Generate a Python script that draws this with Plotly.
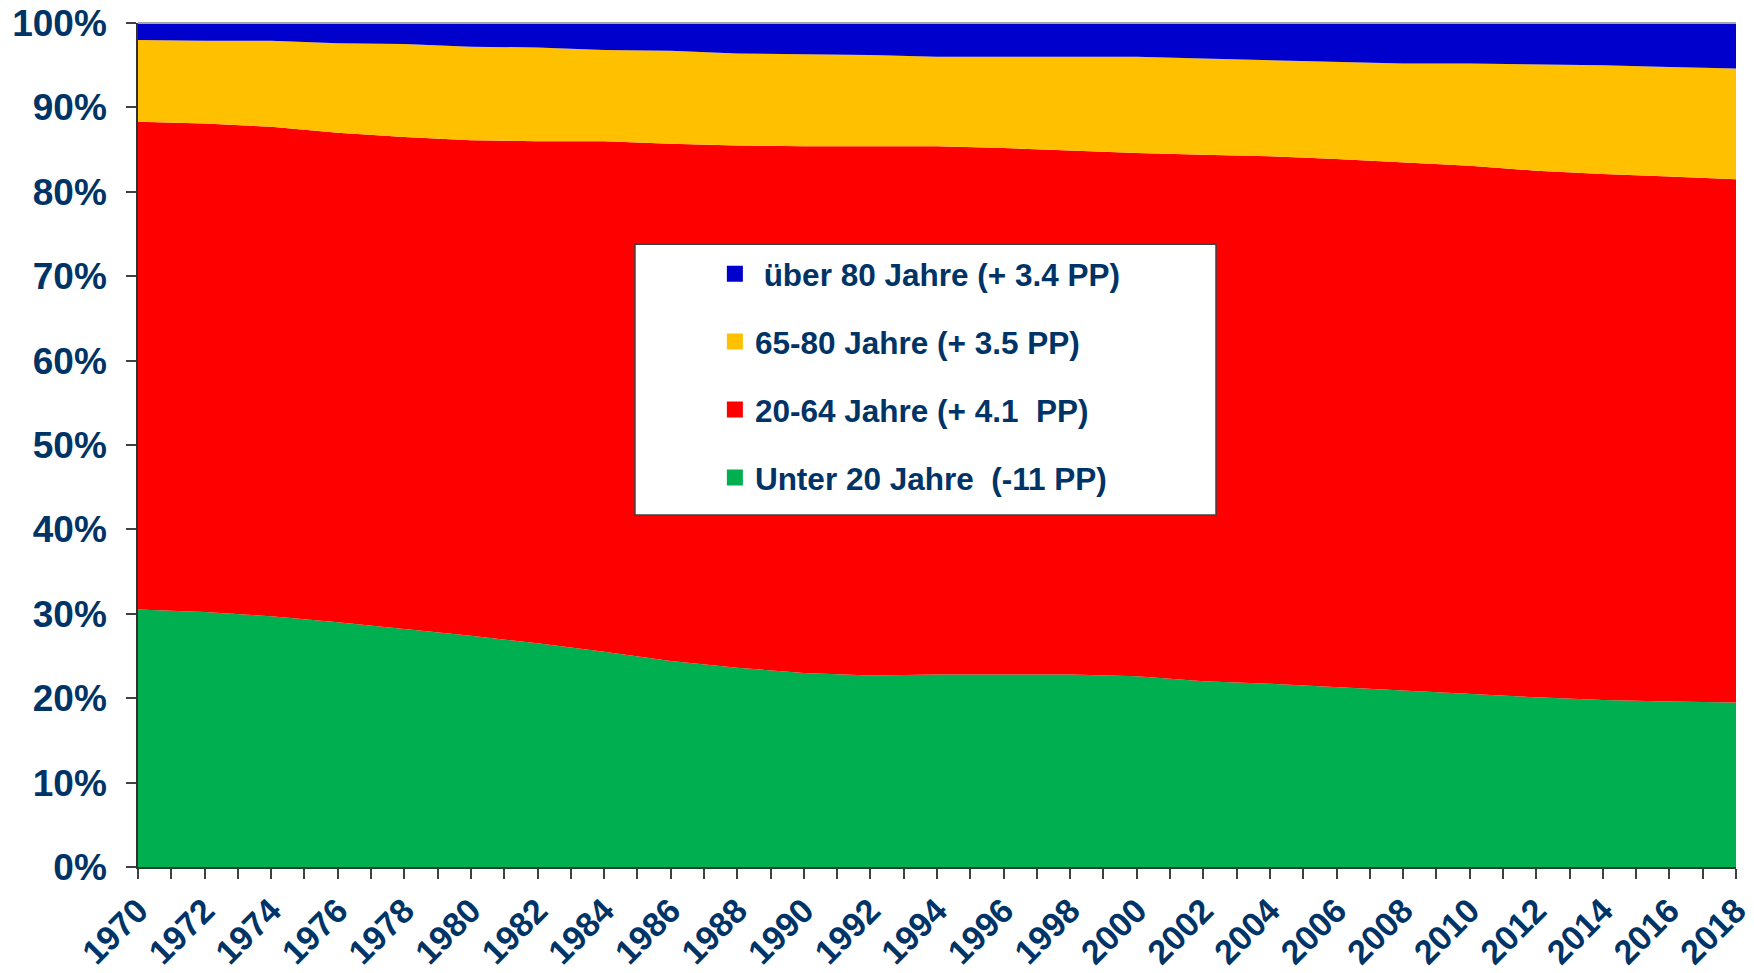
import plotly.graph_objects as go

years = list(range(1970, 2019, 2))

# shares in percent
unter20 = [30.5, 30.2, 29.7, 29.0, 28.2, 27.4, 26.5, 25.5, 24.4, 23.6, 23.0, 22.7, 22.8,
           22.8, 22.8, 22.6, 22.0, 21.7, 21.3, 20.9, 20.5, 20.1, 19.8, 19.6, 19.5]
j20_64 = [57.8, 57.9, 58.0, 58.0, 58.3, 58.7, 59.5, 60.5, 61.3, 61.9, 62.4, 62.7, 62.6,
          62.4, 62.1, 62.0, 62.4, 62.5, 62.6, 62.6, 62.6, 62.4, 62.3, 62.2, 62.0]
j65_80 = [9.7, 9.8, 10.2, 10.6, 11.0, 11.1, 11.1, 10.8, 11.0, 10.9, 10.9, 10.8, 10.6,
          10.8, 11.1, 11.4, 11.4, 11.4, 11.5, 11.7, 12.1, 12.6, 12.9, 13.0, 13.1]
ueber80 = [2.0, 2.1, 2.1, 2.4, 2.5, 2.8, 2.9, 3.2, 3.3, 3.6, 3.7, 3.8, 4.0,
           4.0, 4.0, 4.0, 4.2, 4.4, 4.6, 4.8, 4.8, 4.9, 5.0, 5.2, 5.4]

series_names = ["Unter 20 Jahre\u00a0 (-11 PP)",
                "20-64 Jahre (+ 4.1\u00a0 PP)",
                "65-80 Jahre (+ 3.5 PP)",
                "\u00a0über 80 Jahre (+ 3.4 PP)"]
series_values = [unter20, j20_64, j65_80, ueber80]
colors = ["#00B050", "#FF0000", "#FFC000", "#0000CC"]

y_ticks = list(range(0, 101, 10))
y_ticktext = [f"{v}%" for v in y_ticks]
x_ticks = years
x_ticktext = [str(y) for y in years]

navy = "#003366"
fontfam = "Liberation Sans, Arial, sans-serif"

fig = go.Figure()
for name, vals, col in zip(series_names, series_values, colors):
    fig.add_trace(go.Scatter(
        x=years, y=vals, stackgroup="one", mode="lines",
        line=dict(width=0, color=col), fillcolor=col,
        showlegend=False, hoverinfo="x+y", name=name))

# legend entries (top to bottom)
for i in [3, 2, 1, 0]:
    fig.add_trace(go.Scatter(
        x=[None], y=[None], mode="markers", name=series_names[i],
        marker=dict(symbol="square", size=20, color=colors[i]),
        legendgroup=f"g{i}", showlegend=True))

fig.update_layout(
    width=1754, height=973,
    margin=dict(l=138, r=18, t=23, b=106),
    paper_bgcolor="white", plot_bgcolor="white",
    font=dict(family=fontfam, color=navy),
    showlegend=True,
    legend=dict(
        x=0.361, y=0.735, xanchor="left", yanchor="top",
        bgcolor="rgba(0,0,0,0)", borderwidth=0,
        font=dict(size=31.5, color=navy, family=fontfam, weight="bold"),
        tracegroupgap=24, itemsizing="trace",
    ),
    shapes=[
        dict(type="rect", xref="paper", yref="paper",
             x0=0.311, x1=0.6746, y0=0.417, y1=0.738,
             line=dict(color="#404040", width=1.5), fillcolor="white",
             layer="above"),
        dict(type="line", xref="paper", yref="paper", x0=0, x1=1, y0=1, y1=1,
             line=dict(color="#A6A6A6", width=2), layer="above"),
    ],
)

fig.update_xaxes(
    range=[1970, 2018.0001], tickmode="array", tickvals=x_ticks, ticktext=x_ticktext,
    tickangle=-45, ticks="outside", ticklen=10, tickcolor="#404040", tickwidth=1.5,
    tickfont=dict(size=34, color=navy, family=fontfam, weight="bold"),
    showline=True, linecolor="#1F3F2F", linewidth=2, showgrid=False, zeroline=False,
    automargin=False, ticklabeloverflow="allow", ticklabelstandoff=-2,
    minor=dict(dtick=1, ticks="outside", ticklen=10, tickcolor="#404040", tickwidth=1.5),
)
fig.update_yaxes(
    range=[0, 100], tickmode="array", tickvals=y_ticks, ticktext=y_ticktext,
    ticks="outside", ticklen=10, tickcolor="#404040", tickwidth=1.5,
    tickfont=dict(size=37, color=navy, family=fontfam, weight="bold"),
    showline=True, linecolor="#303030", linewidth=1.5, showgrid=False, zeroline=False,
    ticklabelstandoff=12, automargin=False, ticklabeloverflow="allow",
)

fig.write_html("out.html", config={"displayModeBar": False},
               post_script="document.body.style.margin='0';document.body.style.overflow='hidden';")
